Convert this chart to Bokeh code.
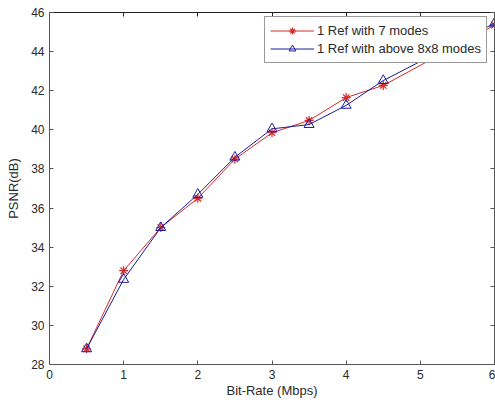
from bokeh.plotting import figure
from bokeh.models import LinearAxis, FixedTicker, Legend, LegendItem, Range1d, CustomJSTickFormatter
from bokeh.embed import file_html
from bokeh.resources import INLINE

# Data
bitrate = [0.5, 1.0, 1.5, 2.0, 2.5, 3.0, 3.5, 4.0, 4.5, 6.0]
psnr_7modes = [28.8, 32.8, 35.0, 36.5, 38.5, 39.85, 40.48, 41.65, 42.27, 45.35]
psnr_8x8modes = [28.8, 32.35, 35.0, 36.7, 38.6, 40.05, 40.27, 41.25, 42.52, 45.45]
x_ticks = [0, 1, 2, 3, 4, 5, 6]
y_ticks = [28, 30, 32, 34, 36, 38, 40, 42, 44, 46]
label_7 = "1 Ref with 7 modes"
label_8 = "1 Ref with above 8x8 modes"

FONT = "Liberation Sans"
TXT = "#2a2a2a"
AX = "#555555"

p = figure(frame_width=445, frame_height=352, output_backend="svg", toolbar_location=None,
           x_range=Range1d(0, 6), y_range=Range1d(28, 46),
           min_border_left=49, min_border_top=12, min_border_bottom=40, min_border_right=1)
p.background_fill_color = "white"
p.border_fill_color = "white"
p.outline_line_color = None
p.xgrid.grid_line_color = None
p.ygrid.grid_line_color = None

xa = p.xaxis[0]
xa.ticker = FixedTicker(ticks=x_ticks)
ya = p.yaxis[0]
ya.ticker = FixedTicker(ticks=y_ticks)
for ax in (xa, ya):
    ax.major_tick_in = 4
    ax.major_tick_out = 0
    ax.minor_tick_line_color = None
    ax.axis_line_color = AX
    ax.major_tick_line_color = AX
    ax.major_label_text_font = FONT
    ax.major_label_text_font_size = "12px"
    ax.major_label_text_color = TXT
    ax.axis_label_text_font = FONT
    ax.axis_label_text_font_size = "13px"
    ax.axis_label_text_font_style = "normal"
    ax.axis_label_text_color = TXT
xa.axis_label = "Bit-Rate (Mbps)"
ya.axis_label = "PSNR(dB)"
xa.major_label_standoff = 5
ya.major_label_standoff = 5
xa.axis_label_standoff = 1
ya.axis_label_standoff = 7

blank = CustomJSTickFormatter(code="return ''")
top = LinearAxis(ticker=FixedTicker(ticks=x_ticks), major_tick_in=4, major_tick_out=0,
                 minor_tick_line_color=None, axis_line_color="#222222",
                 major_tick_line_color="#222222", formatter=blank,
                 major_label_standoff=0, axis_label_standoff=0)
right = LinearAxis(ticker=FixedTicker(ticks=y_ticks), major_tick_in=4, major_tick_out=0,
                   minor_tick_line_color=None, axis_line_color=AX,
                   major_tick_line_color=AX, formatter=blank,
                   major_label_standoff=0, axis_label_standoff=0)
p.add_layout(top, "above")
p.add_layout(right, "right")

RED = "#d42a2a"
BLUE = "#1c1c9c"

l1 = p.line(bitrate, psnr_7modes, line_color=RED, line_width=1)
m1 = p.scatter(bitrate, psnr_7modes, marker="asterisk", size=9, line_color=RED, line_width=1.2)
l2 = p.line(bitrate, psnr_8x8modes, line_color=BLUE, line_width=1)
m2 = p.scatter(bitrate, psnr_8x8modes, marker="triangle", size=10, line_color=BLUE,
               fill_color=None, line_width=1)

legend = Legend(items=[LegendItem(label=label_7, renderers=[l1, m1]),
                       LegendItem(label=label_8, renderers=[l2, m2])],
                location=(215, 301))
legend.label_text_font = FONT
legend.label_text_font_size = "13px"
legend.label_text_color = TXT
legend.glyph_width = 44
legend.glyph_height = 17
legend.label_height = 17
legend.spacing = 1
legend.padding = 5
legend.margin = 0
legend.label_standoff = 3
legend.border_line_color = "#333333"
legend.border_line_width = 1
legend.background_fill_color = "white"
legend.background_fill_alpha = 1.0
p.add_layout(legend, "center")

open("out.html", "w").write(file_html(p, INLINE))
